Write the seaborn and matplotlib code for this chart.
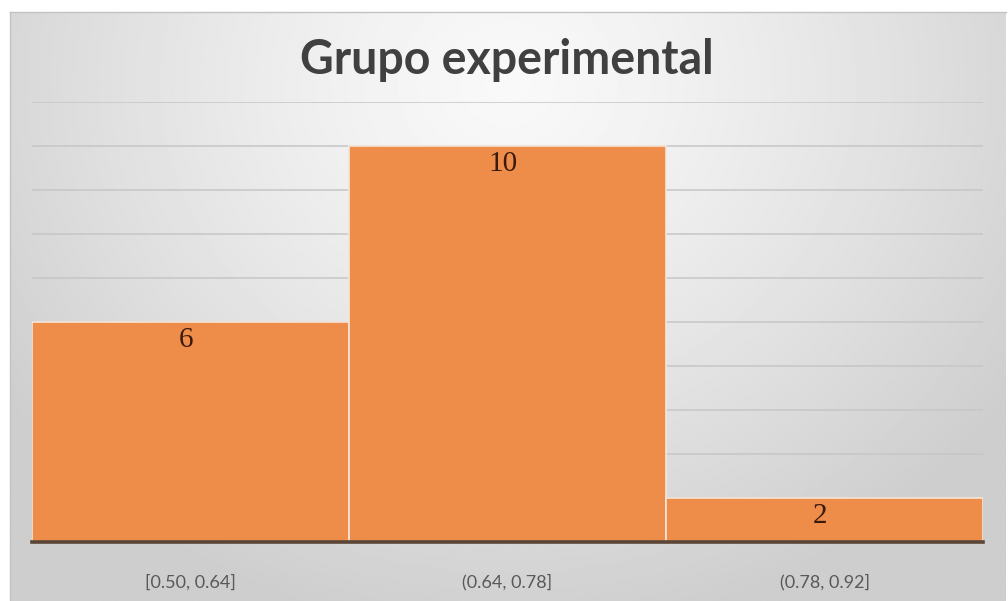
import numpy as np
import pandas as pd
import matplotlib
matplotlib.use("Agg")
import matplotlib.pyplot as plt
import seaborn as sns

categories = ["[0.50, 0.64]", "(0.64, 0.78]", "(0.78, 0.92]"]
counts = [6, 10, 2]
title = "Grupo experimental"

df = pd.DataFrame({"intervalo": categories, "frecuencia": counts})

sns.set_theme(style="white")
plt.rcParams["font.family"] = ["Lato", "DejaVu Sans"]

W, H = 1008, 601
fig = plt.figure(figsize=(W / 100, H / 100), dpi=100)
fig.patch.set_facecolor("white")

# background panel with radial gradient
bg = fig.add_axes([10 / W, 0, (1006 - 10) / W, (H - 12) / H])
yy, xx = np.mgrid[0:1:300j, 0:1:600j]
r = np.sqrt(((xx - 0.5) / 0.62) ** 2 + ((yy - 0.12) / 0.95) ** 2)
val = 0.975 - 0.17 * np.clip(r, 0, 1) ** 1.3
bg.imshow(val, cmap="gray", vmin=0, vmax=1, aspect="auto",
          extent=[0, 1, 1, 0], interpolation="bilinear")
bg.set_xticks([])
bg.set_yticks([])
for s in ["top", "left"]:
    bg.spines[s].set_color("#c2c2c2")
    bg.spines[s].set_linewidth(1)
for s in ["right", "bottom"]:
    bg.spines[s].set_visible(False)
bg.set_zorder(0)

ax = fig.add_axes([32 / W, (H - 542) / H, (983 - 32) / W, (542 - 102) / H])
ax.set_zorder(1)
ax.patch.set_alpha(0)

sns.barplot(data=df, x="intervalo", y="frecuencia", color="#EE8C4A",
            saturation=1, width=1.0, edgecolor="#f6e6da", linewidth=1.2,
            ax=ax, zorder=3)

ax.set_xlim(-0.5, 2.5)
ax.set_ylim(1, 11)
ax.set_yticks(range(1, 12))
ax.yaxis.grid(True, color="#c6c6c6", linewidth=1.1, zorder=0)
ax.set_axisbelow(True)
ax.tick_params(axis="y", left=False, labelleft=False)
ax.tick_params(axis="x", length=0, pad=23, labelsize=13, labelcolor="#595959")
ax.set_xlabel("")
ax.set_ylabel("")
for s in ["top", "left", "right"]:
    ax.spines[s].set_visible(False)
ax.spines["bottom"].set_color("#5a4636")
ax.spines["bottom"].set_linewidth(2.6)
ax.spines["bottom"].set_zorder(5)

for i, v in enumerate(counts):
    ax.annotate(str(v), xy=(i, v), xytext=(-3, -13), textcoords="offset points",
                ha="center", va="center", fontsize=21, color="#3a1a0c",
                family=["Liberation Serif", "DejaVu Serif"], zorder=6)

fig.text(0.503, (H - 60) / H, title, ha="center", va="center",
         fontsize=33.5, fontweight="bold", color="#404040")

fig.savefig("out.png", dpi=100, facecolor="white")
